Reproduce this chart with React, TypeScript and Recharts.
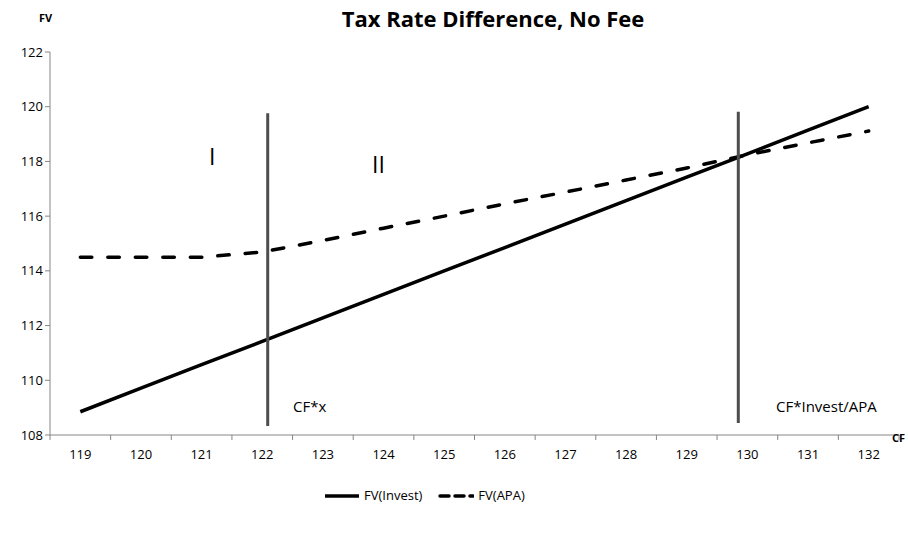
import React from "react";
import {
  LineChart,
  Line,
  XAxis,
  YAxis,
  ReferenceLine,
} from "recharts";

// CF categories (x axis)
const CF = [119, 120, 121, 122, 123, 124, 125, 126, 127, 128, 129, 130, 131, 132];
// FV(Invest) - straight line
const FV_INVEST = [
  108.85, 109.71, 110.57, 111.42, 112.28, 113.14, 114.0, 114.85, 115.71, 116.57,
  117.43, 118.28, 119.14, 120.0,
];
// FV(APA) - dashed
const FV_APA = [
  114.5, 114.5, 114.5, 114.69, 115.11, 115.56, 116.0, 116.45, 116.88, 117.32,
  117.76, 118.24, 118.68, 119.11,
];
const Y_TICKS = [108, 110, 112, 114, 116, 118, 120, 122];
// category boundaries, where the tick marks sit
const X_BOUNDS = [...CF.map((c) => c - 0.5), CF[CF.length - 1] + 0.5];

// vertical markers: CF*x and CF*Invest/APA
const CF_X = 122.09;
const CF_INVEST_APA = 129.85;

const FONT = "'Open Sans', sans-serif";
const WIDTH = 908;
const HEIGHT = 539;
const MARGIN = { top: 52, right: 9, bottom: 74, left: 0 };
const Y_AXIS_W = 50;
const HALF_BAND =
  (WIDTH - MARGIN.left - MARGIN.right - Y_AXIS_W) / CF.length / 2;

const data = CF.map((cf, i) => ({
  cf,
  invest: FV_INVEST[i],
  apa: FV_APA[i],
}));

const XTick = (props: any) => {
  const { x, y, payload } = props;
  const v = payload.value;
  if (v > CF[CF.length - 1]) return <g />;
  return (
    <text
      x={x + HALF_BAND}
      y={y + 17}
      textAnchor="middle"
      fill="#000"
      fontSize={13}
      fontFamily={FONT}
    >
      {v + 0.5}
    </text>
  );
};

const abs = (left: number, top: number, extra: React.CSSProperties = {}) =>
  ({
    position: "absolute",
    left,
    top,
    fontFamily: FONT,
    color: "#000",
    whiteSpace: "nowrap",
    lineHeight: 1,
    ...extra,
  }) as React.CSSProperties;

export default function App() {
  return (
    <div
      style={{
        position: "absolute",
        left: 0,
        top: 0,
        width: WIDTH,
        height: HEIGHT,
        background: "#fff",
        overflow: "hidden",
      }}
    >
      <LineChart width={WIDTH} height={HEIGHT} data={data} margin={MARGIN}>
        <XAxis
          dataKey="cf"
          type="number"
          domain={[X_BOUNDS[0], X_BOUNDS[X_BOUNDS.length - 1]]}
          ticks={X_BOUNDS}
          interval={0}
          tick={<XTick />}
          tickSize={5}
          stroke="#868686"
          height={30}
        />
        <YAxis
          domain={[108, 122]}
          ticks={Y_TICKS}
          interval={0}
          width={Y_AXIS_W}
          tickSize={5}
          stroke="#868686"
          tick={{ fill: "#000", fontSize: 13, fontFamily: FONT }}
        />
        <Line
          dataKey="invest"
          stroke="#000"
          strokeWidth={3.5}
          dot={false}
          isAnimationActive={false}
        />
        <Line
          dataKey="apa"
          stroke="#000"
          strokeWidth={3.5}
          strokeDasharray="11.5 16"
          strokeLinecap="round"
          dot={false}
          isAnimationActive={false}
        />
        <ReferenceLine
          segment={[
            { x: CF_X, y: 108.33 },
            { x: CF_X, y: 119.76 },
          ]}
          stroke="#4d4d4d"
          strokeWidth={3}
        />
        <ReferenceLine
          segment={[
            { x: CF_INVEST_APA, y: 108.44 },
            { x: CF_INVEST_APA, y: 119.82 },
          ]}
          stroke="#4d4d4d"
          strokeWidth={3}
        />
      </LineChart>

      <div style={abs(0, 7, { width: 986, textAlign: "center", fontSize: 22, fontWeight: 700 })}>
        Tax Rate Difference, No Fee
      </div>
      <div style={abs(39, 12, { fontSize: 11, fontWeight: 700 })}>FV</div>
      <div style={abs(892, 432, { fontSize: 11, fontWeight: 700 })}>CF</div>

      <div style={abs(209, 145, { fontSize: 23 })}>I</div>
      <div style={abs(372, 153, { fontSize: 23 })}>II</div>
      <div style={abs(293, 399, { fontSize: 15 })}>CF*x</div>
      <div style={abs(776, 399, { fontSize: 15 })}>CF*Invest/APA</div>

      {/* legend */}
      <div style={abs(324, 489, { fontSize: 13, display: "flex", alignItems: "center" })}>
        <svg width={36} height={8}>
          <line x1={1} y1={4} x2={35} y2={4} stroke="#000" strokeWidth={3.5} />
        </svg>
        <span style={{ marginLeft: 4, marginRight: 16 }}>FV(Invest)</span>
        <svg width={36} height={8}>
          <line
            x1={2}
            y1={4}
            x2={35}
            y2={4}
            stroke="#000"
            strokeWidth={3.5}
            strokeDasharray="9 6"
            strokeLinecap="round"
          />
        </svg>
        <span style={{ marginLeft: 4 }}>FV(APA)</span>
      </div>
    </div>
  );
}
